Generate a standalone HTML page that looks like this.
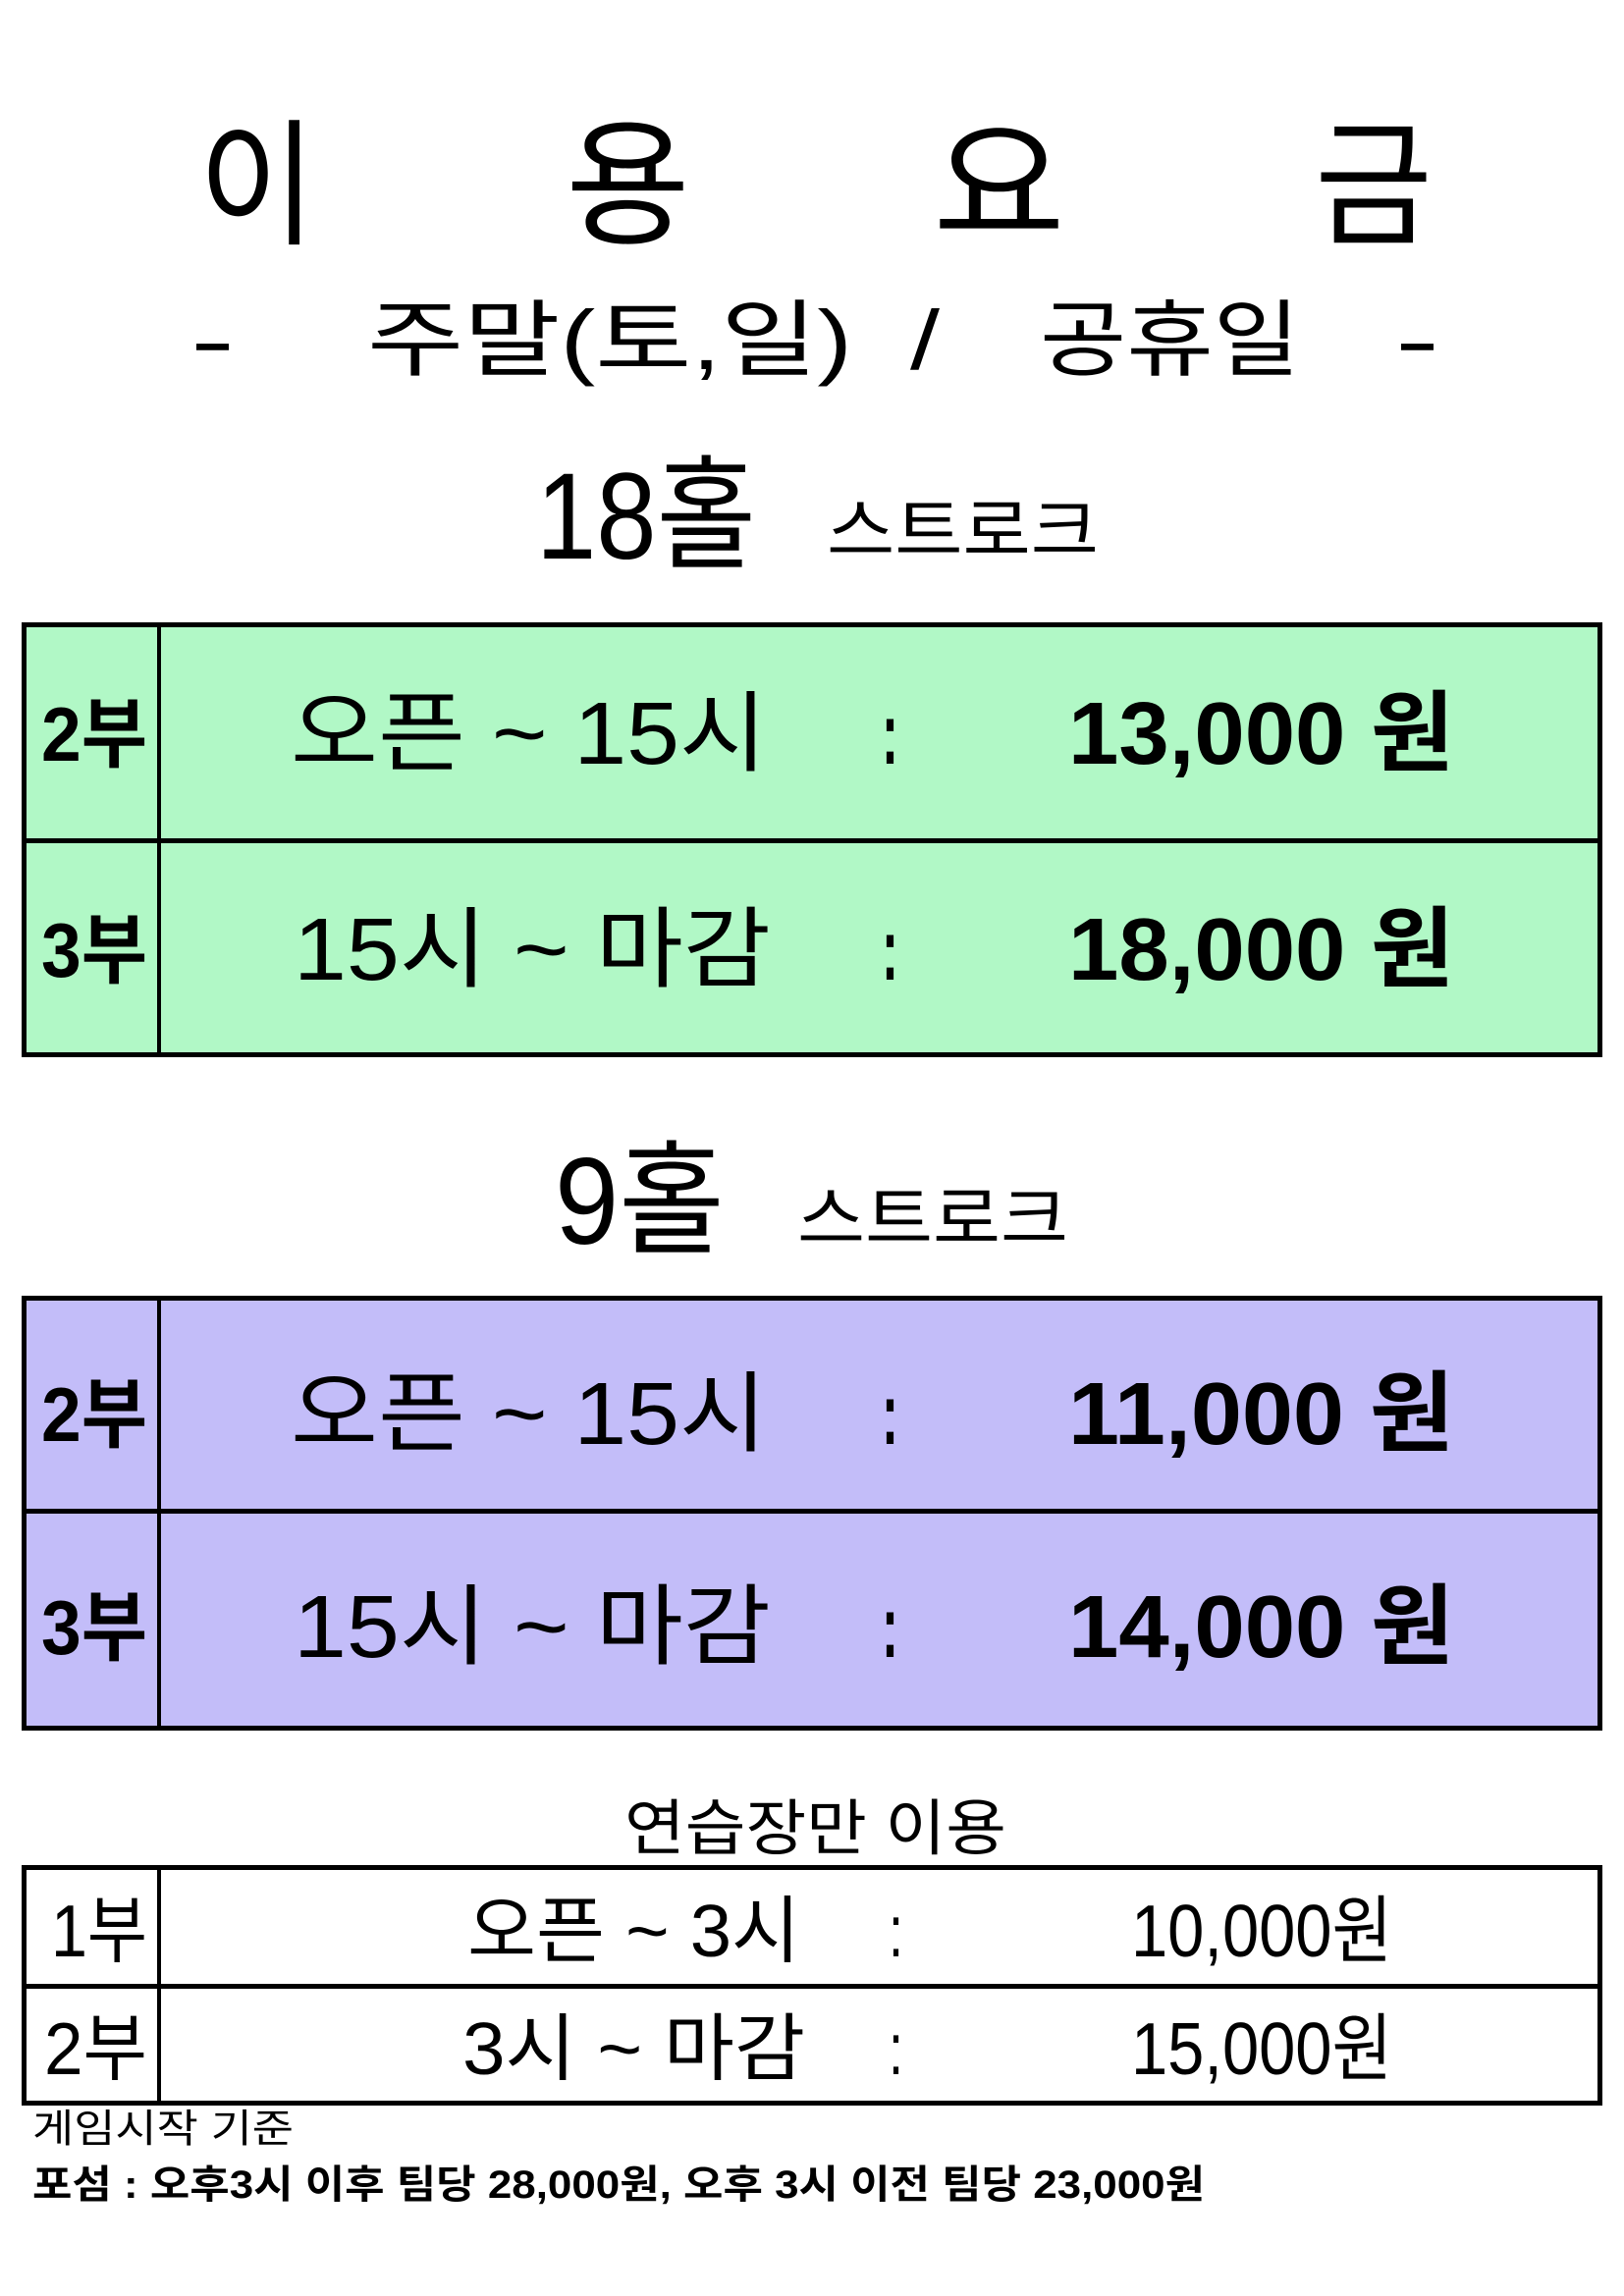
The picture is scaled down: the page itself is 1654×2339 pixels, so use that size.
<!DOCTYPE html>
<html><head><meta charset="utf-8"><style>
html,body{margin:0;padding:0;background:#fff}
#page{position:relative;width:1654px;height:2339px;overflow:hidden;font-family:"Liberation Sans","Noto Sans CJK KR",sans-serif;color:#000}
.t{position:absolute;white-space:pre;transform-origin:0 50%;}
.box{position:absolute;box-sizing:border-box;border:5px solid #000}
.ln{position:absolute;background:#000}
</style></head><body>
<div id="page">

<div class="box" style="left:22px;top:634px;width:1610px;height:443px;background:#b1f8c6"></div>
<div class="ln" style="left:22px;top:854px;width:1610px;height:5px"></div>
<div class="ln" style="left:160px;top:634px;width:4px;height:443px"></div>

<div class="box" style="left:22px;top:1320px;width:1610px;height:443px;background:#c3bdf9"></div>
<div class="ln" style="left:22px;top:1537px;width:1610px;height:5px"></div>
<div class="ln" style="left:160px;top:1320px;width:4px;height:443px"></div>

<div class="box" style="left:22px;top:1900px;width:1610px;height:245px;background:#fff"></div>
<div class="ln" style="left:22px;top:2021px;width:1610px;height:5px"></div>
<div class="ln" style="left:160px;top:1900px;width:4px;height:245px"></div>

<span class="t" data-f="202,322,190,140,400">이</span>
<span class="t" data-f="576,703,190,140,400">용</span>
<span class="t" data-f="950,1085,190,140,400">요</span>
<span class="t" data-f="1339,1459,190,140,400">금</span>

<span class="t" data-f="194,239,347,85,400">-</span>
<span class="t" data-f="374,868,347,85,400">주말(토,일)</span>
<span class="t" data-f="927,957,347,85,400">/</span>
<span class="t" data-f="1059,1324,347,85,400">공휴일</span>
<span class="t" data-f="1421,1466,347,85,400">-</span>

<span class="t" data-f="546,770,526,125,400">18홀</span>
<span class="t" data-f="842,1119,541,70,400">스트로크</span>

<span class="t" data-f="42,150,748,78,700">2부</span>
<span class="t" data-f="296,781,748,90,400">오픈 ~ 15시</span>
<span class="t" data-f="898,915,748,90,700">:</span>
<span class="t" data-f="1088,1481,748,90,700">13,000 원</span>
<span class="t" data-f="42,150,968,78,700">3부</span>
<span class="t" data-f="299,785,968,90,400">15시 ~ 마감</span>
<span class="t" data-f="898,915,968,90,700">:</span>
<span class="t" data-f="1088,1481,968,90,700">18,000 원</span>

<span class="t" data-f="565,738,1224,125,400">9홀</span>
<span class="t" data-f="812,1088,1242,70,400">스트로크</span>

<span class="t" data-f="42,150,1441,78,700">2부</span>
<span class="t" data-f="296,781,1441,90,400">오픈 ~ 15시</span>
<span class="t" data-f="898,915,1441,90,700">:</span>
<span class="t" data-f="1088,1481,1441,90,700">11,000 원</span>
<span class="t" data-f="42,150,1658,78,700">3부</span>
<span class="t" data-f="299,785,1658,90,400">15시 ~ 마감</span>
<span class="t" data-f="898,915,1658,90,700">:</span>
<span class="t" data-f="1088,1481,1658,90,700">14,000 원</span>

<span class="t" data-f="636,1025,1864,62,400">연습장만 이용</span>

<span class="t" data-f="52,150,1967,75,400">1부</span>
<span class="t" data-f="476,815,1967,75,400">오픈 ~ 3시</span>
<span class="t" data-f="905,920,1967,75,400">:</span>
<span class="t" data-f="1152,1418,1967,75,400">10,000원</span>
<span class="t" data-f="45,150,2087,75,400">2부</span>
<span class="t" data-f="471,820,2087,75,400">3시 ~ 마감</span>
<span class="t" data-f="905,920,2087,75,400">:</span>
<span class="t" data-f="1152,1418,2087,75,400">15,000원</span>

<span class="t" data-f="33,299,2169,40,400">게임시작 기준</span>
<span class="t" data-f="33,1227,2226,40,700">포섬 : 오후3시 이후 팀당 28,000원, 오후 3시 이전 팀당 23,000원</span>
</div>
<script>
document.querySelectorAll('.t').forEach(function(el){
  var f = el.getAttribute('data-f').split(',').map(Number);
  var x0=f[0], x1=f[1], cy=f[2], fs=f[3], fw=f[4];
  el.style.fontSize = fs+'px';
  el.style.fontWeight = fw;
  el.style.lineHeight = fs+'px';
  el.style.left = x0+'px';
  el.style.top = (cy - fs/2)+'px';
  var w = el.getBoundingClientRect().width;
  if (w>0) el.style.transform = 'scaleX('+((x1-x0)/w)+')';
});
</script>
</body></html>
